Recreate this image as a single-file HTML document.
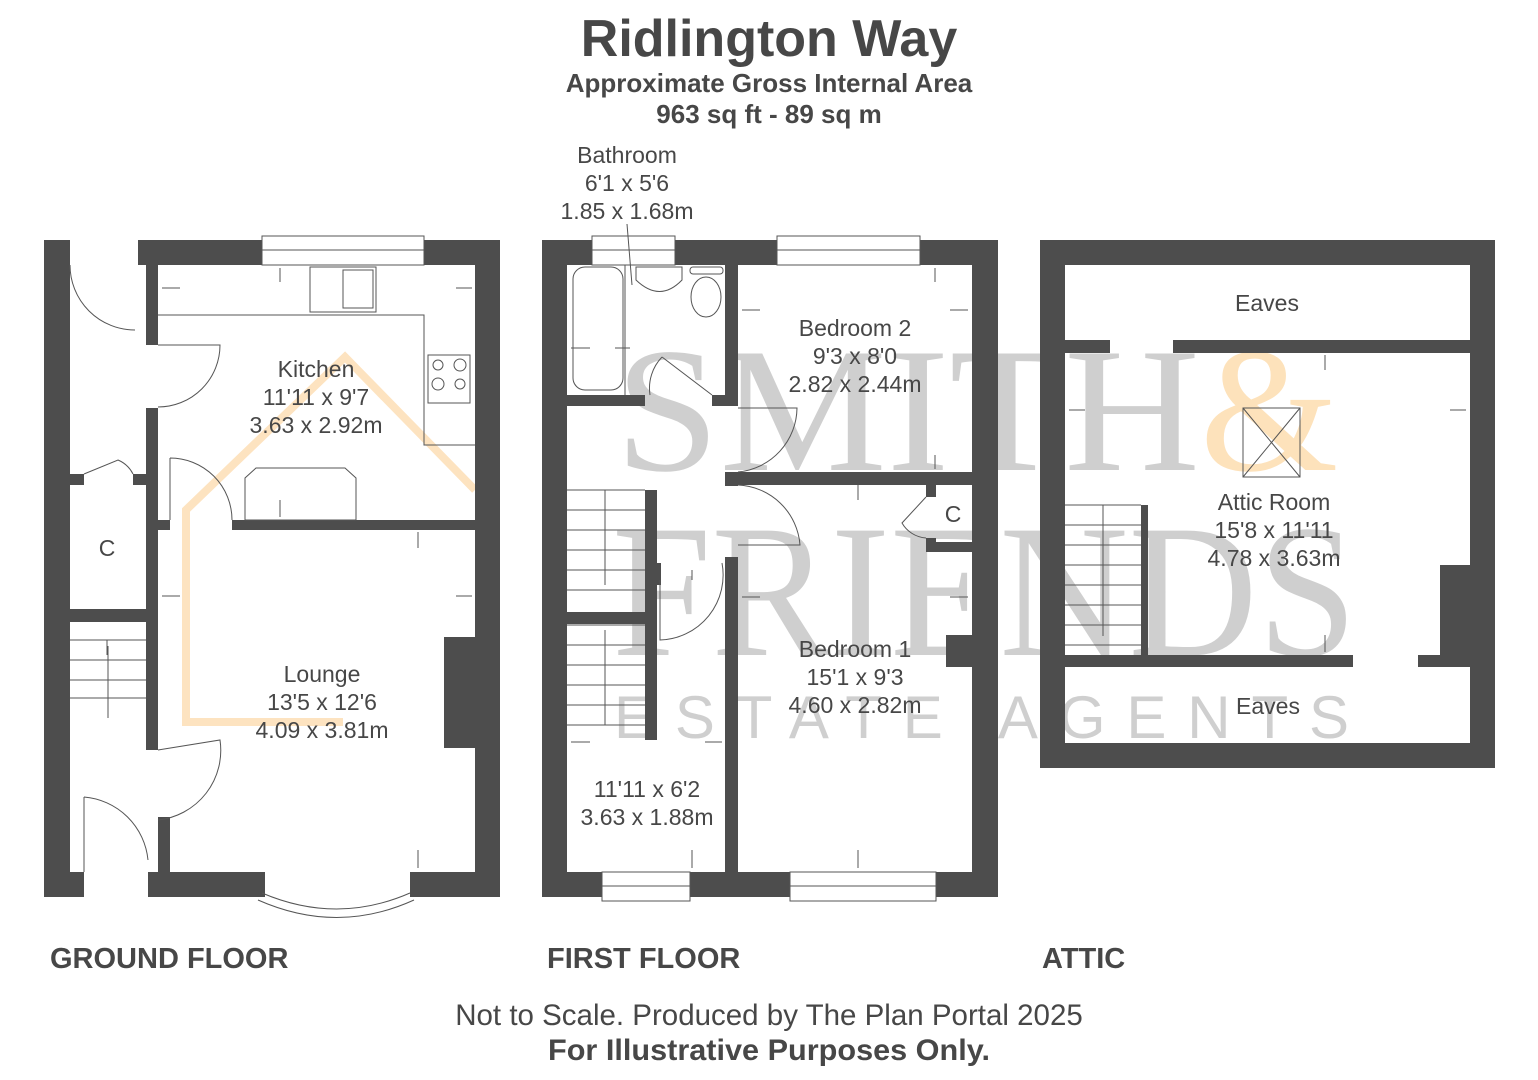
<!DOCTYPE html>
<html><head><meta charset="utf-8"><style>
html,body{margin:0;padding:0;background:#fff;}
svg{display:block;}
</style></head><body>
<svg width="1538" height="1080" viewBox="0 0 1538 1080" xmlns="http://www.w3.org/2000/svg" font-family="Liberation Sans, sans-serif">
<!-- titles -->
<text x="769" y="56" text-anchor="middle" font-size="52" font-weight="bold" fill="#474747">Ridlington Way</text>
<text x="769" y="92" text-anchor="middle" font-size="26" font-weight="bold" fill="#474747">Approximate Gross Internal Area</text>
<text x="769" y="123" text-anchor="middle" font-size="26" font-weight="bold" fill="#474747">963 sq ft - 89 sq m</text>

<!-- watermark -->
<g fill="#cfcfcf">
<text x="615" y="470" style="font-family:'Liberation Serif',serif" font-size="178" textLength="585" lengthAdjust="spacingAndGlyphs">SMITH</text>
<text x="1200" y="470" style="font-family:'Liberation Serif',serif" font-size="178" fill="#fde2bb">&amp;</text>
<text x="612" y="655" style="font-family:'Liberation Serif',serif" font-size="190" textLength="745" lengthAdjust="spacingAndGlyphs">FRIENDS</text>
<text x="614" y="738" font-size="60" textLength="735" lengthAdjust="spacing">ESTATE AGENTS</text>
</g>
<!-- orange logo -->
<polyline points="343,722 186,722 186,510 345,357 475,490" fill="none" stroke="#fde3c0" stroke-width="8"/>

<g fill="#4d4d4d">
<rect x="44" y="240" width="26" height="657"/>
<rect x="138" y="240" width="124" height="25"/>
<rect x="424" y="240" width="76" height="25"/>
<rect x="475" y="240" width="25" height="657"/>
<rect x="44" y="872" width="40" height="25"/>
<rect x="148" y="872" width="117" height="25"/>
<rect x="410" y="872" width="90" height="25"/>
<rect x="146" y="265" width="12" height="80"/>
<rect x="146" y="408" width="12" height="342"/>
<rect x="158" y="520" width="12" height="10"/>
<rect x="232" y="520" width="243" height="10"/>
<rect x="158" y="817" width="12" height="55"/>
<rect x="70" y="474" width="14" height="11"/>
<rect x="133" y="474" width="13" height="11"/>
<rect x="70" y="609" width="76" height="13"/>
<rect x="444" y="637" width="31" height="111"/>
<rect x="542" y="240" width="25" height="657"/>
<rect x="542" y="240" width="50" height="25"/>
<rect x="675" y="240" width="102" height="25"/>
<rect x="920" y="240" width="78" height="25"/>
<rect x="972" y="240" width="26" height="657"/>
<rect x="542" y="872" width="60" height="25"/>
<rect x="690" y="872" width="100" height="25"/>
<rect x="936" y="872" width="62" height="25"/>
<rect x="567" y="395" width="78" height="11"/>
<rect x="725" y="265" width="13" height="141"/>
<rect x="712" y="395" width="13" height="11"/>
<rect x="725" y="472" width="247" height="13"/>
<rect x="725" y="472" width="13" height="14"/>
<rect x="725" y="557" width="13" height="315"/>
<rect x="645" y="490" width="12" height="250"/>
<rect x="655" y="563" width="6" height="22"/>
<rect x="567" y="612" width="78" height="12"/>
<rect x="926" y="485" width="10" height="12"/>
<rect x="926" y="538" width="10" height="14"/>
<rect x="926" y="542" width="46" height="10"/>
<rect x="946" y="635" width="26" height="32"/>
<rect x="1040" y="240" width="455" height="25"/>
<rect x="1040" y="240" width="25" height="528"/>
<rect x="1470" y="240" width="25" height="528"/>
<rect x="1040" y="743" width="455" height="25"/>
<rect x="1065" y="340" width="45" height="13"/>
<rect x="1173" y="340" width="297" height="13"/>
<rect x="1065" y="655" width="288" height="12"/>
<rect x="1418" y="655" width="52" height="12"/>
<rect x="1440" y="565" width="30" height="90"/>
<rect x="1141" y="505" width="7" height="150"/>
</g>

<g fill="none" stroke="#555" stroke-width="1">
<rect x="262" y="236" width="162" height="29"/><line x1="262" y1="250" x2="424" y2="250"/>
<rect x="592" y="236" width="83" height="29"/><line x1="592" y1="250" x2="675" y2="250"/>
<rect x="777" y="236" width="143" height="29"/><line x1="777" y1="250" x2="920" y2="250"/>
<rect x="602" y="872" width="88" height="29"/><line x1="602" y1="886" x2="690" y2="886"/>
<rect x="790" y="872" width="146" height="29"/><line x1="790" y1="886" x2="936" y2="886"/>
<path d="M258,900 Q337,935 414,900 M262,893 Q337,925 410,893"/>
<polyline points="158,315 424,315 424,445 475,445"/>
<rect x="310" y="267" width="66" height="45"/>
<rect x="343" y="270" width="30" height="38"/>
<rect x="428" y="355" width="42" height="48"/>
<circle cx="438" cy="365" r="5"/><circle cx="460" cy="365" r="6"/><circle cx="438" cy="384" r="6"/><circle cx="460" cy="384" r="5"/>
<polygon points="245,520 245,478 256,468 345,468 356,478 356,520"/>
<path d="M70,265 A65,65 0 0 0 135,330"/>
<path d="M158,345 L220,345 A62,62 0 0 1 158,407"/>
<path d="M170,458 A62,62 0 0 1 232,520 M170,458 L170,520"/>
<path d="M158,750 L220,740 A70,70 0 0 1 158,820"/>
<path d="M84,797 A70,70 0 0 1 148,860 M84,797 L84,872"/>
<path d="M84,474 L118,460 A30,30 0 0 1 133,474"/>
<path d="M70,640 H146 M70,660 H146 M70,680 H146 M70,698 H146 M108,718 V646"/>
<rect x="573" y="267" width="50" height="123" rx="12"/>
<line x1="625" y1="265" x2="625" y2="395"/>
<path d="M636,267 H682 V280 Q660,303 636,280 Z"/>
<ellipse cx="706" cy="297" rx="15" ry="20"/><rect x="690" y="267" width="33" height="7" rx="3"/>
<path d="M662,357 L712,395 M662,357 A45,45 0 0 0 650,395"/>
<path d="M738,408 L797,408 A65,65 0 0 1 738,472"/>
<path d="M738,485 A65,65 0 0 1 800,545 L738,545"/>
<path d="M660,580 L660,640 A65,65 0 0 0 722,563"/>
<path d="M926,497 L902,523 A30,30 0 0 0 926,538"/>
<path d="M567,490 H645 M567,510 H645 M567,530 H645 M567,550 H645 M567,570 H645 M567,590 H645 M605,490 V585"/>
<path d="M567,625 H645 M567,645 H645 M567,665 H645 M567,685 H645 M567,705 H645 M567,725 H645 M605,725 V630"/>
<path d="M1065,505 H1141 M1065,525 H1141 M1065,545 H1141 M1065,565 H1141 M1065,585 H1141 M1065,605 H1141 M1065,625 H1141 M1065,645 H1141 M1103,505 V636"/>
<rect x="1243" y="408" width="57" height="69"/><path d="M1243,408 L1300,477 M1300,408 L1243,477"/>
</g>

<g stroke="#555" stroke-width="1" fill="#555">
<path d="M162,288 H180 M456,288 H472 M280,268 V282 M280,500 V517 M418,532 V548 M162,596 H180 M456,596 H472 M418,850 V868 M107,655 V640"/>
<path d="M571,348 H590 M615,348 H630 M742,310 H760 M950,310 H968 M935,268 V282 M935,455 V469 M858,485 V500 M742,597 H760 M950,597 H968 M692,580 V570 M571,742 H590 M705,742 H722 M692,850 V868 M858,850 V868 M1069,410 H1085 M1450,410 H1466 M1325,355 V370 M1325,635 V652"/>
</g>

<g fill="#474747" font-size="23" text-anchor="middle">
<text x="316" y="377">Kitchen</text><text x="316" y="405">11'11 x 9'7</text><text x="316" y="433">3.63 x 2.92m</text>
<text x="107" y="556">C</text>
<text x="322" y="682">Lounge</text><text x="322" y="710">13'5 x 12'6</text><text x="322" y="738">4.09 x 3.81m</text>
<text x="627" y="163">Bathroom</text><text x="627" y="191">6'1 x 5'6</text><text x="627" y="219">1.85 x 1.68m</text>
<text x="855" y="336">Bedroom 2</text><text x="855" y="364">9'3 x 8'0</text><text x="855" y="392">2.82 x 2.44m</text>
<text x="953" y="522">C</text>
<text x="855" y="657">Bedroom 1</text><text x="855" y="685">15'1 x 9'3</text><text x="855" y="713">4.60 x 2.82m</text>
<text x="647" y="797">11'11 x 6'2</text><text x="647" y="825">3.63 x 1.88m</text>
<text x="1267" y="311">Eaves</text>
<text x="1274" y="510">Attic Room</text><text x="1274" y="538">15'8 x 11'11</text><text x="1274" y="566">4.78 x 3.63m</text>
<text x="1268" y="714">Eaves</text>
</g>
<line x1="627" y1="224" x2="632" y2="285" stroke="#555" stroke-width="1"/>

<g fill="#474747" font-size="29" font-weight="bold">
<text x="50" y="968">GROUND FLOOR</text>
<text x="547" y="968">FIRST FLOOR</text>
<text x="1042" y="968">ATTIC</text>
</g>
<text x="769" y="1025" text-anchor="middle" font-size="29.5" fill="#474747">Not to Scale. Produced by The Plan Portal 2025</text>
<text x="769" y="1060" text-anchor="middle" font-size="30" font-weight="bold" fill="#474747" textLength="442" lengthAdjust="spacingAndGlyphs">For Illustrative Purposes Only.</text>
</svg>
</body></html>
